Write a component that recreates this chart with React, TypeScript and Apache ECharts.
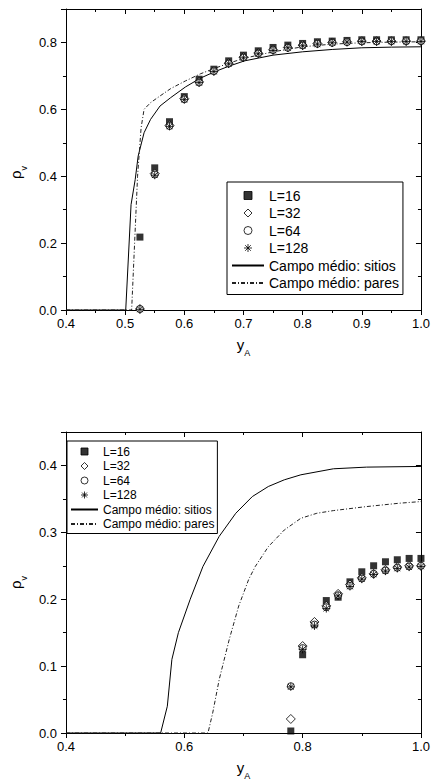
import React, { useEffect, useRef } from 'react';
import * as echarts from 'echarts';

const FONT = '"Liberation Sans", Arial, sans-serif';

// ---------- Top chart data ----------
const topX = [0.525, 0.55, 0.575, 0.6, 0.625, 0.65, 0.675, 0.7, 0.725, 0.75, 0.775, 0.8, 0.825, 0.85, 0.875, 0.9, 0.925, 0.95, 0.975, 1.0];
const topL16 = [0.218, 0.425, 0.563, 0.638, 0.69, 0.72, 0.745, 0.762, 0.775, 0.785, 0.792, 0.797, 0.802, 0.804, 0.806, 0.808, 0.808, 0.808, 0.808, 0.808];
const topL32 = [0.003, 0.408, 0.552, 0.632, 0.682, 0.715, 0.738, 0.756, 0.768, 0.778, 0.785, 0.792, 0.797, 0.8, 0.802, 0.804, 0.804, 0.804, 0.804, 0.804];
const topL64 = [0.003, 0.405, 0.55, 0.63, 0.68, 0.714, 0.737, 0.755, 0.767, 0.777, 0.784, 0.791, 0.796, 0.799, 0.801, 0.803, 0.803, 0.804, 0.804, 0.804];
const topL128 = [0.002, 0.403, 0.549, 0.629, 0.68, 0.713, 0.736, 0.754, 0.766, 0.776, 0.784, 0.79, 0.795, 0.799, 0.801, 0.803, 0.803, 0.803, 0.803, 0.803];

const topSitiosX = [0.4, 0.501, 0.51, 0.517, 0.522, 0.532, 0.543, 0.559, 0.577, 0.602, 0.627, 0.652, 0.677, 0.702, 0.75, 0.8, 0.85, 0.9, 0.95, 1.0];
const topSitiosY = [0, 0, 0.315, 0.39, 0.46, 0.53, 0.57, 0.61, 0.635, 0.667, 0.693, 0.713, 0.73, 0.745, 0.762, 0.772, 0.779, 0.784, 0.786, 0.787];
const topParesX = [0.4, 0.511, 0.516, 0.521, 0.527, 0.532, 0.543, 0.559, 0.577, 0.602, 0.627, 0.652, 0.677, 0.702, 0.75, 0.8, 0.85, 0.9, 0.95, 1.0];
const topParesY = [0, 0, 0.2, 0.4, 0.545, 0.6, 0.62, 0.64, 0.662, 0.685, 0.706, 0.723, 0.739, 0.753, 0.772, 0.787, 0.795, 0.799, 0.801, 0.802];

// ---------- Bottom chart data ----------
const botX = [0.78, 0.8, 0.82, 0.84, 0.86, 0.88, 0.9, 0.92, 0.94, 0.96, 0.98, 1.0];
const botL16 = [0.003, 0.117, 0.163, 0.198, 0.203, 0.226, 0.241, 0.25, 0.256, 0.259, 0.261, 0.261];
const botL32 = [0.021, 0.13, 0.166, 0.19, 0.208, 0.222, 0.232, 0.238, 0.244, 0.248, 0.25, 0.25];
const botL64 = [0.07, 0.127, 0.162, 0.188, 0.206, 0.22, 0.231, 0.238, 0.243, 0.247, 0.249, 0.25];
const botL128 = [0.069, 0.125, 0.16, 0.186, 0.205, 0.219, 0.23, 0.237, 0.242, 0.246, 0.248, 0.249];

const botSitiosX = [0.4, 0.56, 0.5713, 0.579, 0.59, 0.61, 0.6315, 0.659, 0.687, 0.715, 0.742, 0.769, 0.797, 0.852, 0.908, 1.0];
const botSitiosY = [0, 0, 0.04, 0.11, 0.15, 0.2, 0.249, 0.294, 0.3285, 0.3535, 0.3685, 0.3785, 0.386, 0.395, 0.3975, 0.3985];
const botParesX = [0.4, 0.64, 0.648, 0.659, 0.676, 0.692, 0.709, 0.72, 0.742, 0.769, 0.797, 0.824, 0.852, 0.908, 0.963, 1.0];
const botParesY = [0, 0, 0.03, 0.08, 0.14, 0.19, 0.23, 0.249, 0.2785, 0.3035, 0.321, 0.3285, 0.3325, 0.3385, 0.3435, 0.346];

const NAMES = ['L=16', 'L=32', 'L=64', 'L=128', 'Campo médio: sitios', 'Campo médio: pares'];
const xTicksTop = 0.1;
const xTicksBot = 0.2;
const yTicksTop = 0.2;
const yTicksBot = 0.1;

const SQUARE = 'path://M0,0L10,0L10,10L0,10Z';
const DIAMOND = 'path://M5,0L10,5L5,10L0,5Z';
const CIRCLE = 'path://M0,5A5,5,0,1,1,10,5A5,5,0,1,1,0,5Z';
const STAR = 'path://M0,5L10,5M5,0L5,10M1.5,1.5L8.5,8.5M8.5,1.5L1.5,8.5';

const pairs = (xs: number[], ys: number[]) => xs.map((x, i) => [x, ys[i]]);

const nameRich = {
  a: { fontSize: 15, lineHeight: 15, verticalAlign: 'top', fontFamily: FONT, color: '#000' },
  b: { fontSize: 9, lineHeight: 9, verticalAlign: 'top', padding: [11, 0, 0, 0], fontFamily: FONT, color: '#000' },
};

function mkX(grid: number, main: boolean, interval: number) {
  return {
    type: 'value',
    gridIndex: grid,
    position: main ? 'bottom' : 'top',
    min: 0.4,
    max: 1.0,
    interval,
    axisLine: { show: true, onZero: false, lineStyle: { color: '#000', width: 1 } },
    axisTick: { show: true, inside: !main, length: 5, lineStyle: { color: '#000', width: 1 } },
    minorTick: { show: true, splitNumber: 2, length: 3, lineStyle: { color: '#000', width: 1 } },
    axisLabel: { show: main, fontSize: 13, color: '#000', fontFamily: FONT, margin: 7, formatter: (v: number) => v.toFixed(1) },
    splitLine: { show: false },
    minorSplitLine: { show: false },
    name: main ? '{a|y}{b|A}' : '',
    nameLocation: 'middle',
    nameGap: 27,
    nameTextStyle: { rich: nameRich },
  };
}

function mkY(grid: number, main: boolean, max: number, interval: number, shift: number) {
  return {
    type: 'value',
    gridIndex: grid,
    position: main ? 'left' : 'right',
    min: 0,
    max,
    interval,
    axisLine: { show: true, onZero: false, lineStyle: { color: '#000', width: 1 } },
    axisTick: { show: true, inside: !main, length: 5, lineStyle: { color: '#000', width: 1 } },
    minorTick: { show: true, splitNumber: 2, length: 3, lineStyle: { color: '#000', width: 1 } },
    axisLabel: { show: main, showMaxLabel: false, fontSize: 13, color: '#000', fontFamily: FONT, margin: 9, formatter: (v: number) => v.toFixed(1) },
    splitLine: { show: false },
    minorSplitLine: { show: false },
    name: main ? '{a|ρ}{b|v}' : '',
    nameLocation: 'middle',
    nameGap: 36,
    nameTextStyle: { rich: nameRich, padding: [0, shift, 0, 0] },
  };
}

function scatterSet(xi: number, yi: number, xs: number[], l16: number[], l32: number[], l64: number[], l128: number[]) {
  const base = { type: 'scatter', xAxisIndex: xi, yAxisIndex: yi, z: 3 };
  return [
    { ...base, name: 'L=16', data: pairs(xs, l16), symbol: SQUARE, symbolSize: 7, itemStyle: { color: '#000', borderColor: '#000', borderWidth: 0 } },
    { ...base, name: 'L=32', data: pairs(xs, l32), symbol: DIAMOND, symbolSize: 9, itemStyle: { color: '#fff', borderColor: '#000', borderWidth: 1 } },
    { ...base, name: 'L=64', data: pairs(xs, l64), symbol: CIRCLE, symbolSize: 7, itemStyle: { color: '#fff', borderColor: '#000', borderWidth: 1 } },
    { ...base, name: 'L=128', data: pairs(xs, l128), symbol: STAR, symbolSize: 8, itemStyle: { color: '#000', borderColor: '#000', borderWidth: 1 } },
  ];
}

function lineSet(xi: number, yi: number, sx: number[], sy: number[], px: number[], py: number[]) {
  const base = {
    type: 'line', xAxisIndex: xi, yAxisIndex: yi, symbol: 'none', showSymbol: false, z: 2, smooth: false,
    itemStyle: { color: 'rgba(0,0,0,0)', borderColor: 'rgba(0,0,0,0)', borderWidth: 0 },
  };
  return [
    { ...base, name: 'Campo médio: sitios', data: pairs(sx, sy), lineStyle: { color: '#000', width: 1, type: 'solid' } },
    { ...base, name: 'Campo médio: pares', data: pairs(px, py), lineStyle: { color: '#222', width: 1, type: [4, 2, 1, 2] } },
  ];
}

export default function App() {
  const ref = useRef<HTMLDivElement>(null);
  useEffect(() => {
    document.body.style.margin = '0';
    if (!ref.current) return;
    const chart = echarts.init(ref.current, undefined, { renderer: 'svg' });
    const legendCommon = {
      orient: 'vertical',
      data: NAMES,
      selectedMode: false,
      borderColor: '#000',
      borderWidth: 1,
      borderRadius: 0,
      backgroundColor: '#fff',
      symbolKeepAspect: true,
      itemStyle: { borderWidth: 1 },
      z: 10,
    };
    const option = {
      animation: false,
      textStyle: { fontFamily: FONT, color: '#000' },
      grid: [
        { left: 60, top: 9, width: 362, height: 301 },
        { left: 60, top: 432, width: 362, height: 301 },
      ],
      xAxis: [mkX(0, true, xTicksTop), mkX(0, false, xTicksTop), mkX(1, true, xTicksBot), mkX(1, false, xTicksBot)],
      yAxis: [mkY(0, true, 0.9, yTicksTop, 26), mkY(0, false, 0.9, yTicksTop, 0), mkY(1, true, 0.45, yTicksBot, 0), mkY(1, false, 0.45, yTicksBot, 0)],
      legend: [
        {
          ...legendCommon,
          left: 227,
          top: 182,
          itemWidth: 32,
          itemHeight: 8,
          itemGap: 2.5,
          itemTextGap: 4,
          padding: [6, 4, 4, 4],
          textStyle: { fontSize: 14, lineHeight: 15, color: '#000', fontFamily: FONT },
        },
        {
          ...legendCommon,
          left: 67,
          top: 441,
          itemWidth: 27,
          itemHeight: 7,
          itemGap: 1.5,
          itemTextGap: 3,
          padding: [4, 3, 3, 3],
          textStyle: { fontSize: 12, lineHeight: 13, color: '#000', fontFamily: FONT },
        },
      ],
      series: [
        ...lineSet(0, 0, topSitiosX, topSitiosY, topParesX, topParesY),
        ...scatterSet(0, 0, topX, topL16, topL32, topL64, topL128),
        ...lineSet(2, 2, botSitiosX, botSitiosY, botParesX, botParesY),
        ...scatterSet(2, 2, botX, botL16, botL32, botL64, botL128),
      ],
    };
    chart.setOption(option as any);
    return () => chart.dispose();
  }, []);
  return <div ref={ref} style={{ width: 433, height: 781 }} />;
}
